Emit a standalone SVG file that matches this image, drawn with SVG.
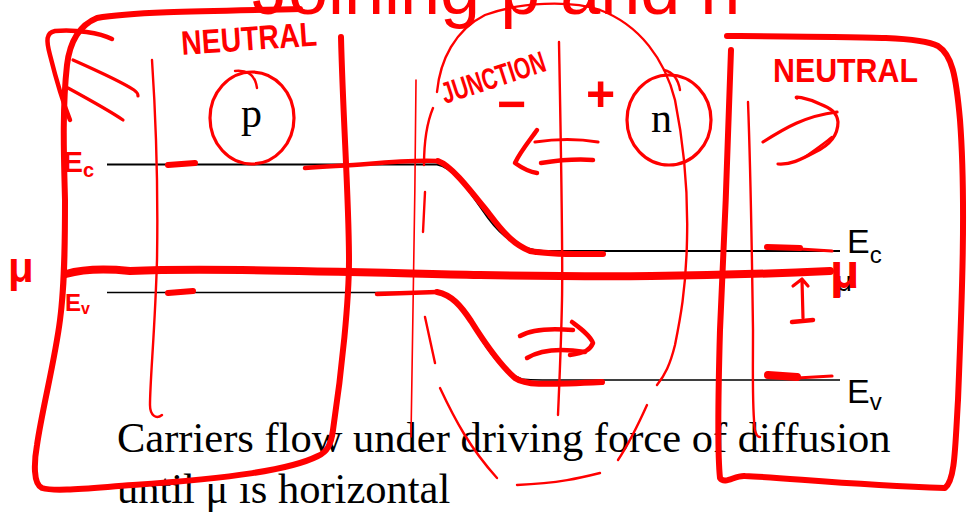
<svg xmlns="http://www.w3.org/2000/svg" width="969" height="517" viewBox="0 0 969 517">
<style>
.bg{fill:#ffffff}
.ink{fill:none;stroke:#ff0000;stroke-linecap:round;stroke-linejoin:round}
.w1{stroke-width:1.6}.w2{stroke-width:2.4}.w3{stroke-width:3.2}.w4{stroke-width:4.5}.w6{stroke-width:6}.w8{stroke-width:8}
.band{fill:none;stroke:#000;stroke-linecap:butt}
.serif{font-family:"Liberation Serif","Times New Roman",serif;fill:#000}
.sans{font-family:"Liberation Sans",Arial,sans-serif}
.hand{font-family:"Liberation Sans",Arial,sans-serif;font-weight:bold;fill:#ff0000}
</style>
<rect class="bg" width="969" height="517"/>

<g id="slide">
  <text id="title" class="sans" x="252" y="14" font-size="72" fill="#ff0000">Joining p and n</text>
  <g id="bands">
    <path id="Ec-line" class="band" stroke="#505050" stroke-width="2" d="M107,164.5 H437 C455,168 468,190 488,218 C503,238 518,249 543,251 H840"/>
    <path id="Ev-line" class="band" stroke-width="1.4" d="M107,292.5 H435 C452,294 462,308 477,333 C491,356 503,372 522,379 C530,380.5 540,380 840,380"/>
  </g>
  <text class="sans" x="847" y="253" font-size="34">E<tspan font-size="24" dy="10">c</tspan></text>
  <text class="sans" x="836" y="291" font-size="28">μ</text>
  <text class="sans" x="847" y="403" font-size="34">E<tspan font-size="24" dy="7">v</tspan></text>
  <text class="serif" x="241" y="127" font-size="42">p</text>
  <text class="serif" x="651" y="132" font-size="42">n</text>
  <text class="serif" x="117" y="452" font-size="42.5">Carriers flow under driving force of diffusion</text>
  <text class="serif" x="117" y="503" font-size="42.5">until μ ıs horizontal</text>
</g>

<g id="connectors">
  <path id="mu-line" class="ink w8" d="M66,274 C80,270 100,268 130,271 C200,268 300,271 480,275 C600,277 700,277 830,271"/>
  <path class="ink w6" d="M168,165 L195,163"/>
  <path class="ink w4" d="M305,168 C330,166 345,166 367,164 C390,162 420,160 438,161"/>
  <path class="ink w6" d="M438,161 C452,166 470,190 490,215 C505,235 515,245 530,251 C550,255 580,254 603,254"/>
  <path class="ink w6" d="M767,247 L800,248"/>
  <path class="ink w3" d="M800,249 L832,251"/>
  <path class="ink w6" d="M168,293 L193,291"/>
  <path class="ink w4" d="M377,294 L437,292"/>
  <path class="ink w6" d="M437,292 C452,295 461,306 471,321 C486,345 500,365 515,378 C525,385 540,385 602,382"/>
  <path class="ink w8" d="M768,375 L797,377"/>
  <path class="ink w3" d="M797,378 L832,376"/>
  <path class="ink w3" d="M802,280 L803,318 M793,286 L802,279 L808,286"/>
  <path class="ink w4" d="M792,322 L813,320"/>
  <path class="ink w4" d="M537,130 C530,140 520,152 515,163 C522,168 530,172 537,173"/>
  <path class="ink w3" d="M535,142 C555,139 580,139 598,142"/>
  <path class="ink w4" d="M541,163 C560,160 580,159 593,160"/>
  <path class="ink w4" d="M520,336 C530,330 550,328 573,330"/>
  <path class="ink w4" d="M572,322 C580,328 590,335 593,343 C590,350 585,353 570,355"/>
  <path class="ink w4" d="M527,358 C540,350 560,348 585,352"/>
</g>

<g id="neutral-p">
  <path id="left-box" class="ink w6" d="M341,37 C343,120 349,200 349,260 C349,300 342,370 333,430 C331,445 327,452 318,456 C290,470 233,478 133,485 C90,488 55,492 42,488 C33,484 34,462 37,445 C42,410 55,360 60,320 C64,290 65,260 65,200 C64,160 62,110 67,65 C70,40 80,25 97,18 C130,12 200,11 300,9"/>
  <path class="ink w4" d="M70,120 C62,100 55,75 50,55 C46,40 46,33 55,31 C75,29 100,33 112,39"/>
  <path class="ink w3" d="M73,60 C100,72 125,84 134,90 C137,92 138,95 138,96"/>
  <path class="ink w3" d="M68,88 C90,100 110,111 123,120"/>
  <path class="ink w2" d="M152,60 C156,120 158,200 157,260 C155,330 150,380 150,405 C150,415 156,420 162,415"/>
  <text class="hand" x="182" y="55" font-size="34" textLength="136" lengthAdjust="spacingAndGlyphs" transform="rotate(-4 182 55)">NEUTRAL</text>
  <ellipse class="ink w3" cx="252" cy="118" rx="42" ry="46"/>
  <path class="ink w2" d="M235,71 C245,70 255,73 257,88"/>
  <text class="hand" x="63" y="172" font-size="30" font-weight="normal">E<tspan font-size="20" dy="5">c</tspan></text>
  <text class="hand" x="65" y="311" font-size="24" font-weight="normal">E<tspan font-size="16" dy="3">v</tspan></text>
  <text class="hand" x="8" y="282" font-size="42">μ</text>
</g>

<g id="junction">
  <path class="ink w1" d="M416,80 C415,200 413,330 411,437"/>
  <path class="ink w2" d="M559,42 C561,150 563,250 562,300 C561,350 559,390 558,415"/>
  <path class="ink w2" d="M437,92 C440,60 455,30 485,15 C520,2 570,0 600,10 C640,25 665,60 675,100 C685,150 688,200 687,240 C686,290 680,320 675,345 C670,365 665,375 657,385"/>
  <path class="ink w2" d="M647,405 C638,425 628,445 618,460"/>
  <path class="ink w2" d="M600,473 C580,478 560,483 517,485"/>
  <path class="ink w2" d="M440,388 C455,420 470,448 497,478"/>
  <path class="ink w2" d="M433,108 C428,120 424,135 424,165 M425,192 L423,232 M425,317 L435,363"/>
  <text class="hand" x="445" y="104" font-size="30" textLength="108" lengthAdjust="spacingAndGlyphs" transform="rotate(-18 445 104)">JUNCTION</text>
  <text class="hand" x="497" y="121" font-size="50">−</text>
  <text class="hand" x="586" y="111" font-size="50">+</text>
</g>

<g id="neutral-n">
  <ellipse class="ink w3" cx="669" cy="120" rx="42" ry="45"/>
  <path class="ink w2" d="M664,70 C672,72 678,78 680,90"/>
  <path id="right-box" class="ink w6" d="M731,50 C729,120 724,250 720,330 C718,400 717,450 720,478 C725,485 735,475 745,476 C790,478 850,485 945,488 C955,480 955,450 958,400 C962,300 966,200 960,120 C956,75 952,55 938,46 C920,37 880,37 727,36"/>
  <path class="ink w2" d="M748,102 C751,180 752,260 753,330 C753,380 752,410 755,430 C756,435 758,437 760,437"/>
  <text class="hand" x="773" y="82" font-size="34" textLength="145" lengthAdjust="spacingAndGlyphs">NEUTRAL</text>
  <path class="ink w3" d="M763,142 C785,128 805,116 837,112"/>
  <path class="ink w3" d="M797,98 C793,96 805,97 820,104 C830,108 837,112 838,122 C838,135 830,145 815,152 C800,160 790,165 778,164"/>
  <path class="ink w2" d="M805,157 C815,150 825,143 832,137"/>
  <text class="hand" x="830" y="288" font-size="48">μ</text>
</g>
</svg>
